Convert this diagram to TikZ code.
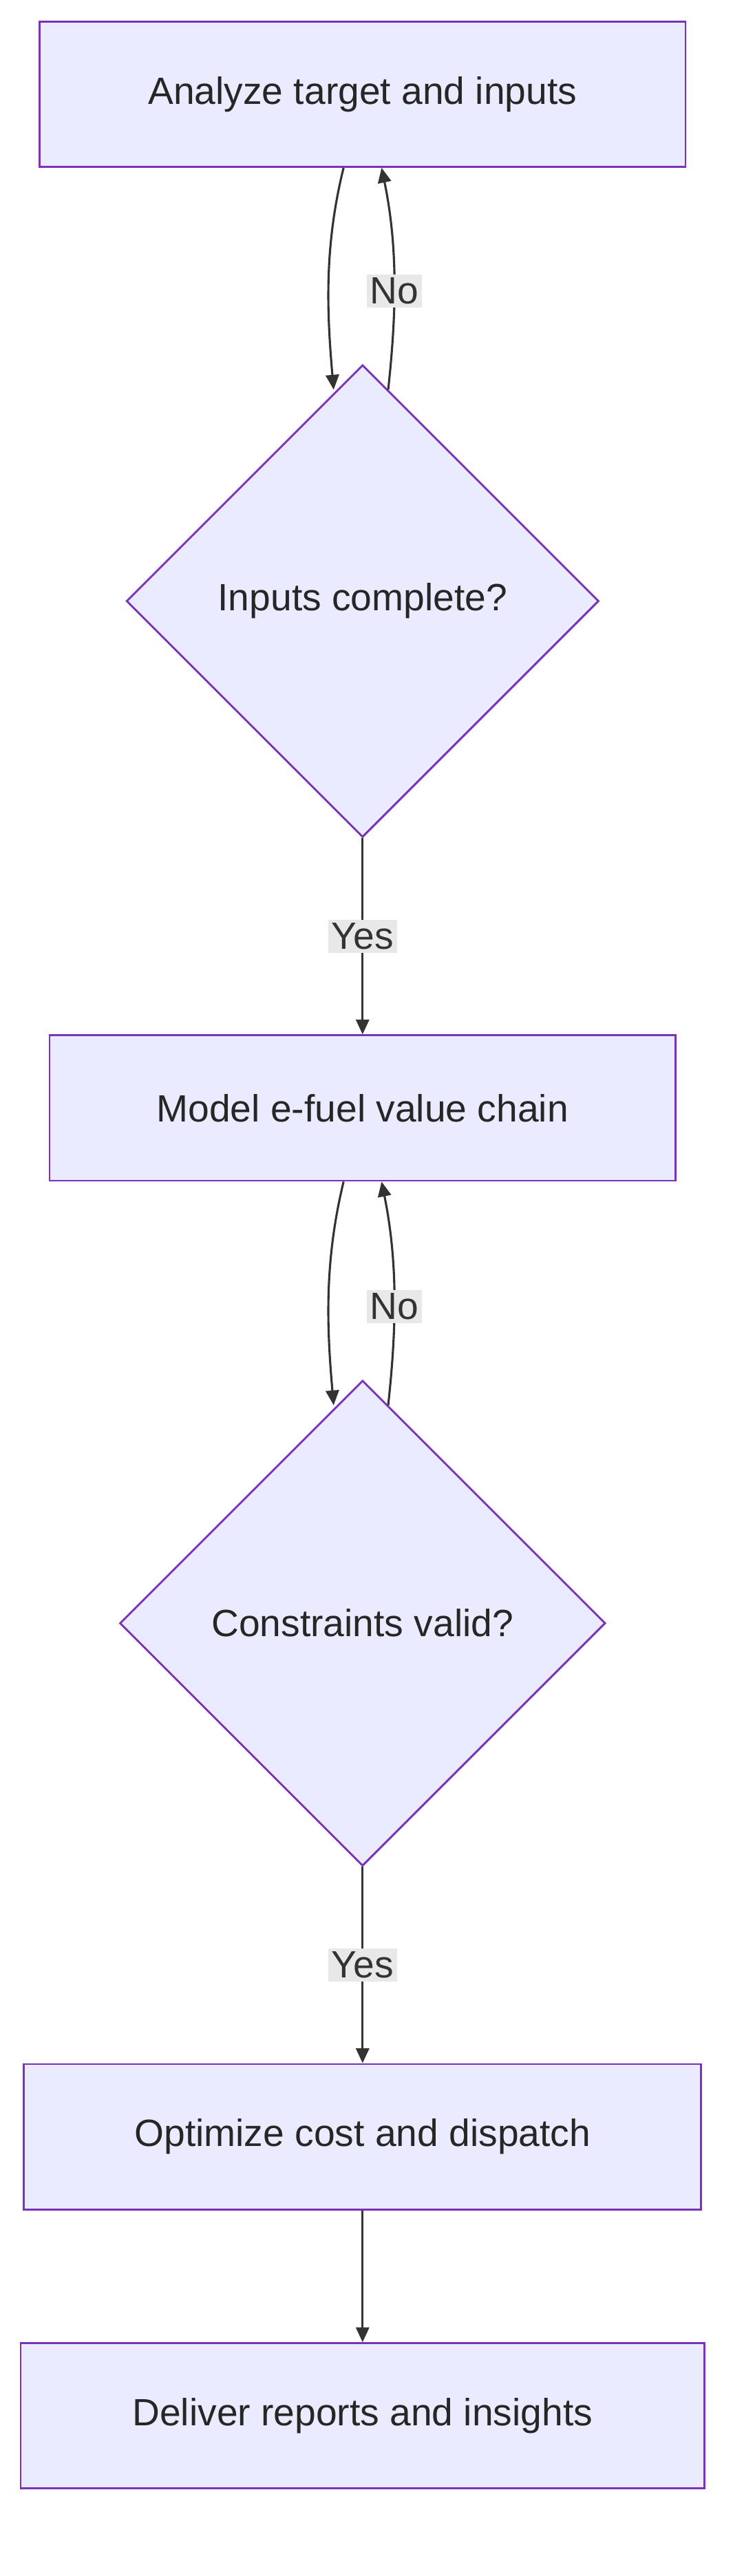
\documentclass[tikz,border=0pt]{standalone}
\usepackage{fontspec}
\setmainfont{Liberation Sans}
\usetikzlibrary{shapes.geometric,arrows.meta}
\tikzset{
  box/.style={draw=violet!70!blue!80, fill=blue!8, line width=1.2pt, minimum height=88pt, text=black!85},
  decision/.style={draw=violet!70!blue!80, fill=blue!8, line width=1.2pt, diamond, aspect=1, inner sep=0pt, text=black!85},
  flow/.style={draw=black!80, line width=1.3pt, -{Triangle[length=9pt,width=8pt]}},
  lbl/.style={fill=black!9, inner sep=2pt, text=black!80}
}
\begin{document}
\begin{tikzpicture}[x=1pt,y=-1pt,font=\fontsize{23}{27}\selectfont]
  \useasboundingbox (0,0) rectangle (450,1560);
  \node[box, minimum width=391pt] (analyze) at (219.5,57) {Analyze target and inputs};
  \node[decision, minimum size=286pt] (inputs) at (219.5,364) {Inputs complete?};
  \node[box, minimum width=379pt] (model) at (219.5,671) {Model e-fuel value chain};
  \node[decision, minimum size=294pt] (valid) at (219.5,983) {Constraints valid?};
  \node[box, minimum width=410pt] (optimize) at (219.5,1294) {Optimize cost and dispatch};
  \node[box, minimum width=414pt] (deliver) at (219.5,1463) {Deliver reports and insights};

  \draw[flow] (analyze.south -| 208,0) .. controls (196,150) and (198,190) .. (202,236);
  \draw[flow] (235,236) .. controls (240,190) and (241,150) .. (analyze.south -| 231,0) node[lbl, pos=0.45] {No};
  \draw[flow] (inputs.south) -- (model.north) node[lbl, midway] {Yes};
  \draw[flow] (model.south -| 208,0) .. controls (196,765) and (198,805) .. (202,851);
  \draw[flow] (235,851) .. controls (240,805) and (241,765) .. (model.south -| 231,0) node[lbl, pos=0.45] {No};
  \draw[flow] (valid.south) -- (optimize.north) node[lbl, midway] {Yes};
  \draw[flow] (optimize) -- (deliver);
\end{tikzpicture}
\end{document}
